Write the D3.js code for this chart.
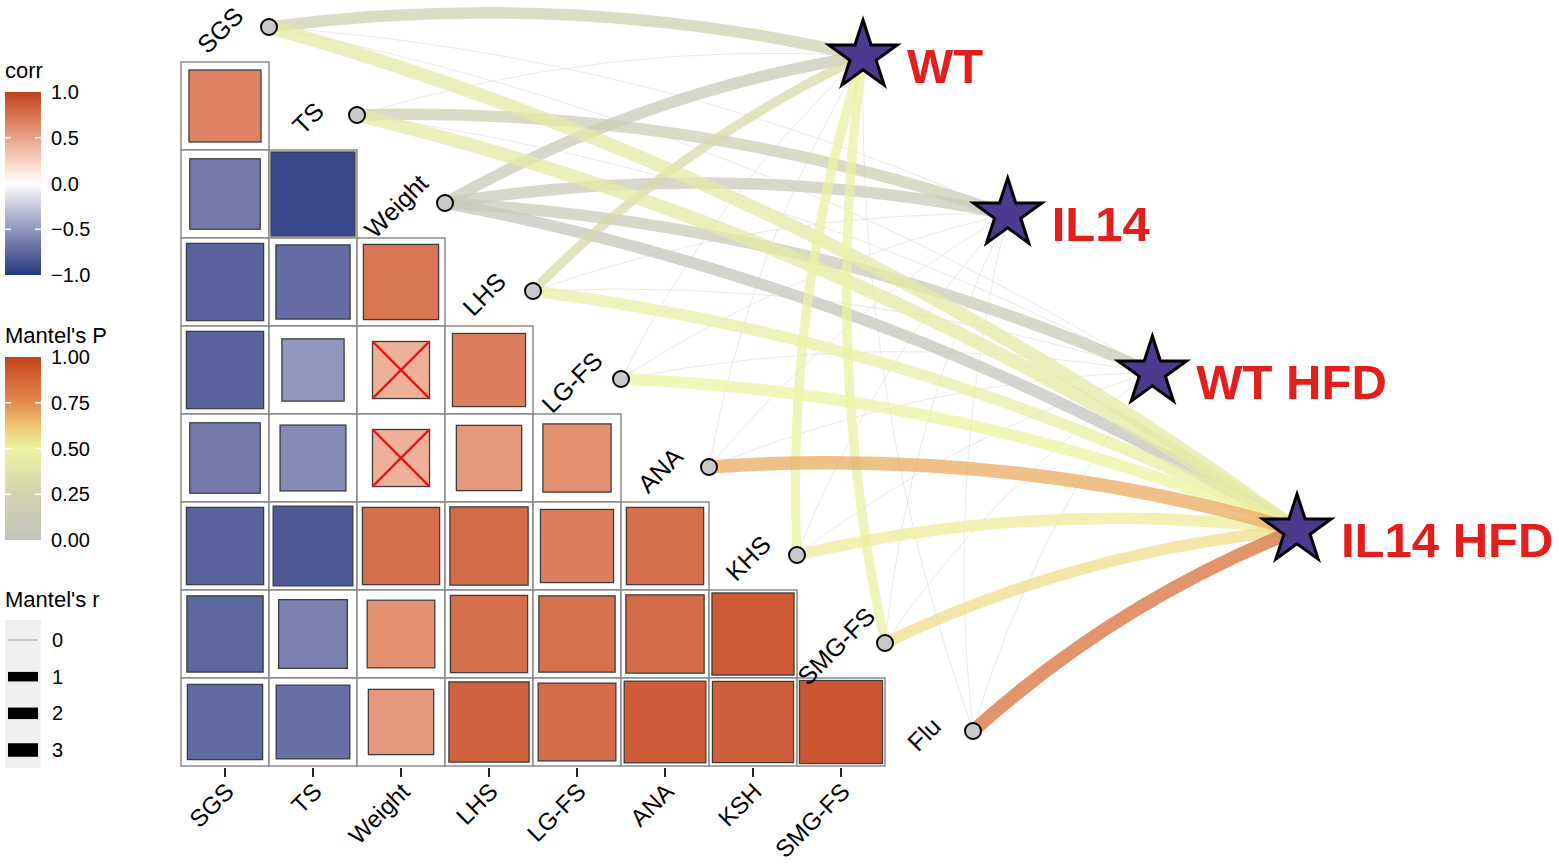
<!DOCTYPE html>
<html>
<head>
<meta charset="utf-8">
<script src="https://cdn.jsdelivr.net/npm/d3@7"></script>
<style>
  body { margin: 0; background: #fff; }
  text { font-family: "Liberation Sans", Arial, sans-serif; fill: #000; }
</style>
</head>
<body>
<svg id="chart" width="1559" height="865"></svg>
<script>
// ---- data ----
var envVars = ["SGS", "TS", "Weight", "LHS", "LG-FS", "ANA", "KHS", "SMG-FS", "Flu"];
var axisLabels = ["SGS", "TS", "Weight", "LHS", "LG-FS", "ANA", "KSH", "SMG-FS"];

// lower triangle: row i is envVars[i + 1], columns 0..i
var corrRows = [
  [0.67],
  [-0.64, -0.91],
  [-0.77, -0.71, 0.73],
  [-0.77, -0.50, 0.42, 0.69],
  [-0.64, -0.56, 0.42, 0.55, 0.60],
  [-0.77, -0.82, 0.77, 0.79, 0.69, 0.77],
  [-0.75, -0.61, 0.59, 0.77, 0.75, 0.79, 0.87],
  [-0.73, -0.70, 0.55, 0.83, 0.78, 0.86, 0.85, 0.89]
];
var nonSignif = [[3, 2], [4, 2]]; // [row, col] cells crossed out

var groups = ["WT", "IL14", "WT HFD", "IL14 HFD"];
// Mantel's P and r class per env variable (same order as envVars)
var pWT      = [0.20, 0.10, 0.12, 0.30, 0.08, 0.06, 0.48, 0.48, 0.05];
var rWT      = [2, 0, 2, 1, 0, 0, 1, 1, 0];
var pIL14    = [0.06, 0.15, 0.10, 0.08, 0.05, 0.06, 0.07, 0.05, 0.06];
var rIL14    = [0, 2, 2, 0, 0, 0, 0, 0, 0];
var pWTHFD   = [0.05, 0.07, 0.12, 0.06, 0.08, 0.05, 0.06, 0.07, 0.05];
var rWTHFD   = [0, 0, 2, 0, 0, 0, 0, 0, 0];
var pIL14HFD = [0.42, 0.42, 0.04, 0.46, 0.50, 0.68, 0.52, 0.56, 0.84];
var rIL14HFD = [3, 3, 2, 2, 2, 3, 2, 2, 3];

var corrTicks = [1.0, 0.5, 0.0, -0.5, -1.0];
var pTicks = [1.00, 0.75, 0.50, 0.25, 0.00];
var rLevels = [0, 1, 2, 3];

// ---- scales ----
var svg = d3.select("#chart");
var cell = 88;
var cellX = d3.scaleLinear().domain([0, 8]).range([181, 181 + 8 * cell]);
var cellY = d3.scaleLinear().domain([0, 8]).range([62, 62 + 8 * cell]);

var corrColor = d3.scaleLinear()
  .domain([-1, 0, 1])
  .range(["#213a80", "#ffffff", "#c0401a"])
  .interpolate(d3.interpolateLab);

var pColor = d3.scaleLinear()
  .domain([0, 0.25, 0.5, 0.625, 0.75, 1])
  .range(["#c3c3c0", "#d2d3ae", "#ecf4a2", "#f1c474", "#e48b4c", "#c4421c"]);

var rWidth = d3.scaleLinear().domain([0, 1, 3]).range([0.5, 9.5, 13.5]);

var starX = d3.scalePoint().domain(groups).range([863, 1297]);
var starY = d3.scalePoint().domain(groups).range([56, 530]);

function nodePos(k) {
  return [cellX(k + 1), cellY(k) - 35];
}

// ---- edges ----
var pAll = [pWT, pIL14, pWTHFD, pIL14HFD];
var rAll = [rWT, rIL14, rWTHFD, rIL14HFD];
var edges = [];
groups.forEach(function(g, gi){
  envVars.forEach(function(v, k){
    edges.push({group: g, k: k, p: pAll[gi][k], r: rAll[gi][k]});
  });
});
edges.sort(function(a, b){
  if ((a.r > 0) != (b.r > 0)) return a.r > 0 ? 1 : -1;
  return a.p - b.p;
});

function curvePath(d) {
  var s = nodePos(d.k);
  var ex = starX(d.group), ey = starY(d.group);
  var dx = ex - s[0], dy = ey - s[1];
  var k = 0.09;
  var cx = (s[0] + ex) / 2 + dy * k;
  var cy = (s[1] + ey) / 2 - dx * k;
  var p = d3.path();
  p.moveTo(s[0], s[1]);
  p.quadraticCurveTo(cx, cy, ex, ey);
  return p.toString();
}

svg.append("g").attr("class", "edges")
  .selectAll("path")
  .data(edges)
  .enter().append("path")
  .attr("d", curvePath)
  .attr("fill", "none")
  .attr("stroke", function(d){ return d.r > 0 ? pColor(d.p) : "#c8c8c8"; })
  .attr("stroke-width", function(d){ return rWidth(d.r); })
  .attr("stroke-opacity", function(d){ return d.r > 0 ? 0.75 : 0.8; });

// ---- correlation matrix ----
var cells = [];
corrRows.forEach(function(row, i){
  row.forEach(function(v, j){
    cells.push({row: i, col: j, r: v});
  });
});

var cg = svg.append("g").attr("class", "matrix");
cg.selectAll("rect.bg")
  .data(cells)
  .enter().append("rect")
  .attr("class", "bg")
  .attr("x", function(d){ return cellX(d.col); })
  .attr("y", function(d){ return cellY(d.row); })
  .attr("width", cell)
  .attr("height", cell)
  .attr("fill", "#fff")
  .attr("stroke", "#8a8a8a")
  .attr("stroke-width", 1.5);

function side(d) { return Math.sqrt(Math.abs(d.r)) * cell; }

cg.selectAll("rect.sq")
  .data(cells)
  .enter().append("rect")
  .attr("class", "sq")
  .attr("x", function(d){ return cellX(d.col) + (cell - side(d)) / 2; })
  .attr("y", function(d){ return cellY(d.row) + (cell - side(d)) / 2; })
  .attr("width", side)
  .attr("height", side)
  .attr("fill", function(d){ return corrColor(d.r); })
  .attr("stroke", "#3c3c3c")
  .attr("stroke-width", 1.3);

var crossed = cells.filter(function(d){
  return nonSignif.some(function(n){ return n[0] == d.row && n[1] == d.col; });
});
crossed.forEach(function(d){
  var s = side(d);
  var x0 = cellX(d.col) + (cell - s) / 2, y0 = cellY(d.row) + (cell - s) / 2;
  cg.append("line").attr("x1", x0).attr("y1", y0).attr("x2", x0 + s).attr("y2", y0 + s)
    .attr("stroke", "#e3191c").attr("stroke-width", 2.5);
  cg.append("line").attr("x1", x0 + s).attr("y1", y0).attr("x2", x0).attr("y2", y0 + s)
    .attr("stroke", "#e3191c").attr("stroke-width", 2.5);
});

// bottom axis
var ax = svg.append("g").attr("class", "xaxis");
axisLabels.forEach(function(lab, i){
  var cx = cellX(i) + cell / 2;
  ax.append("line")
    .attr("x1", cx).attr("x2", cx)
    .attr("y1", cellY(8) + 2).attr("y2", cellY(8) + 11)
    .attr("stroke", "#222").attr("stroke-width", 2);
  ax.append("text")
    .attr("transform", "translate(" + (cx - 2) + "," + (cellY(8) + 15) + ") rotate(-45)")
    .attr("text-anchor", "end")
    .attr("dy", "0.72em")
    .style("font-size", "24px")
    .text(lab);
});

// diagonal labels
svg.append("g").attr("class", "diag")
  .selectAll("text")
  .data(envVars)
  .enter().append("text")
  .attr("transform", function(d, k){
    return "translate(" + (cellX(k) + cell / 2 - 5) + "," + (cellY(k) - 32) + ") rotate(-45)";
  })
  .attr("text-anchor", "middle")
  .attr("dominant-baseline", "central")
  .style("font-size", "25px")
  .text(function(d){ return d; });

// nodes
svg.append("g").attr("class", "nodes")
  .selectAll("circle")
  .data(envVars)
  .enter().append("circle")
  .attr("cx", function(d, k){ return nodePos(k)[0]; })
  .attr("cy", function(d, k){ return nodePos(k)[1]; })
  .attr("r", 8)
  .attr("fill", "#c9c9c9")
  .attr("stroke", "#000")
  .attr("stroke-width", 2);

// stars + group labels
var star = d3.symbol().type(d3.symbolStar).size(36 * 36 / 0.8908130915292852);
var sg = svg.append("g").attr("class", "stars");
sg.selectAll("path")
  .data(groups)
  .enter().append("path")
  .attr("d", star)
  .attr("transform", function(d){ return "translate(" + starX(d) + "," + starY(d) + ")"; })
  .attr("fill", "#4b3a8e")
  .attr("stroke", "#000")
  .attr("stroke-width", 3)
  .attr("stroke-linejoin", "miter");
sg.selectAll("text")
  .data(groups)
  .enter().append("text")
  .attr("x", function(d){ return starX(d) + 44; })
  .attr("y", function(d){ return starY(d) + 27; })
  .style("font-size", "49px")
  .style("font-weight", "bold")
  .style("fill", "#e41e1c")
  .text(function(d){ return d; });

// ---- legends ----
var lg = svg.append("g").attr("class", "legend");
var defs = svg.append("defs");

function gradientBar(id, scale, domain, y0, y1, title, ticks, fmt) {
  var grad = defs.append("linearGradient").attr("id", id)
    .attr("x1", 0).attr("y1", 1).attr("x2", 0).attr("y2", 0);
  d3.range(0, 1.0001, 0.05).forEach(function(t){
    grad.append("stop").attr("offset", t)
      .attr("stop-color", scale(domain[0] + t * (domain[1] - domain[0])));
  });
  var ly = d3.scaleLinear().domain(domain).range([y1, y0]);
  lg.append("text").attr("x", 5).attr("y", y0 - 14).style("font-size", "22px").text(title);
  lg.append("rect").attr("x", 5).attr("y", y0).attr("width", 36).attr("height", y1 - y0)
    .attr("fill", "url(#" + id + ")");
  ticks.forEach(function(t){
    if (t != domain[0] && t != domain[1]) {
      lg.append("line").attr("x1", 5).attr("x2", 11).attr("y1", ly(t)).attr("y2", ly(t))
        .attr("stroke", "#fff").attr("stroke-width", 1.5);
      lg.append("line").attr("x1", 35).attr("x2", 41).attr("y1", ly(t)).attr("y2", ly(t))
        .attr("stroke", "#fff").attr("stroke-width", 1.5);
    }
    lg.append("text").attr("x", 51).attr("y", ly(t))
      .attr("dominant-baseline", "central")
      .style("font-size", "20px")
      .text(fmt(t));
  });
}

gradientBar("corrGrad", corrColor, [-1, 1], 92, 275, "corr", corrTicks,
  function(t){ return d3.format(".1f")(t).replace("-", "\u2212"); });
gradientBar("pGrad", pColor, [0, 1], 357, 540, "Mantel's P", pTicks, d3.format(".2f"));

lg.append("text").attr("x", 5).attr("y", 607).style("font-size", "22px").text("Mantel's r");
var keyY = d3.scalePoint().domain(rLevels).range([640, 750]);
lg.append("rect").attr("x", 5).attr("y", 620).attr("width", 36).attr("height", 148)
  .attr("fill", "#f0f0f0");
rLevels.forEach(function(r){
  lg.append("line").attr("x1", 8).attr("x2", 38).attr("y1", keyY(r)).attr("y2", keyY(r))
    .attr("stroke", r == 0 ? "#999" : "#000")
    .attr("stroke-width", r == 0 ? 1 : rWidth(r));
  lg.append("text").attr("x", 52).attr("y", keyY(r))
    .attr("dominant-baseline", "central")
    .style("font-size", "20px")
    .text(r);
});
</script>
</body>
</html>
